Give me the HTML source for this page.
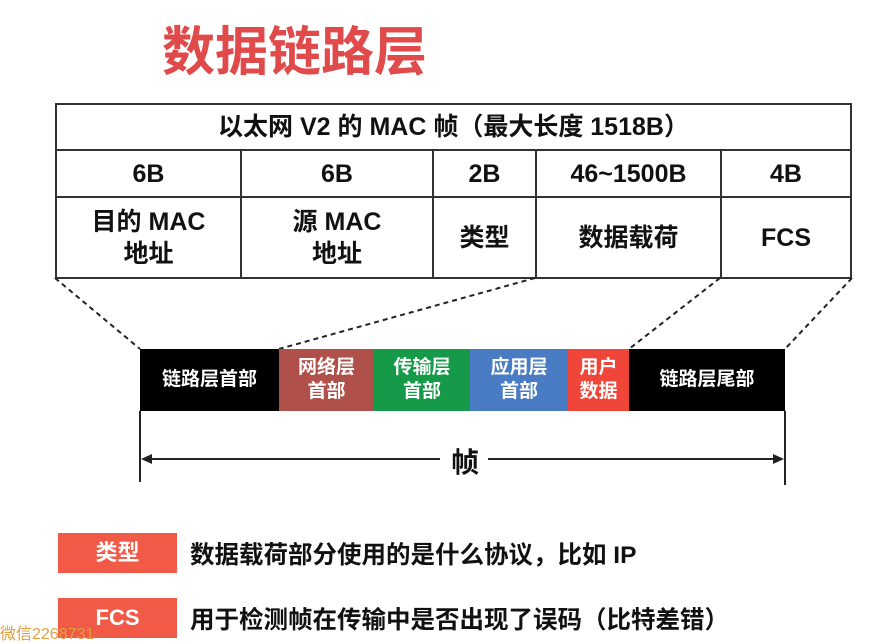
<!DOCTYPE html>
<html><head><meta charset="utf-8"><style>
body{margin:0;width:886px;height:641px;background:#fff;position:relative;overflow:hidden;font-family:"Liberation Sans","Noto Sans CJK SC",sans-serif;font-weight:bold;}
.a{position:absolute;}
table{border-collapse:collapse;position:absolute;left:55px;top:103px;width:797px;}
td{border:2px solid #333;text-align:center;font-size:25px;color:#111;padding:0;line-height:32px;}
.seg{position:absolute;top:349px;height:62px;color:#fff;font-size:19px;line-height:24px;display:flex;align-items:center;justify-content:center;text-align:center;}
.tag{position:absolute;left:58px;width:119px;height:40px;background:#f05a47;color:#fff;font-size:22px;line-height:40px;text-align:center;}
.txt{position:absolute;left:190px;font-size:24.5px;color:#111;}
</style></head><body>
<div class="a" style="left:162px;top:10px;font-size:53px;color:#e04a4a;letter-spacing:0px;">数据链路层</div>
<table>
<tr style="height:46px"><td colspan="5">以太网 V2 的 MAC 帧（最大长度 1518B）</td></tr>
<tr style="height:47px"><td style="width:183px">6B</td><td style="width:190px">6B</td><td style="width:101px">2B</td><td style="width:183px">46~1500B</td><td>4B</td></tr>
<tr style="height:81px"><td>目的 MAC<br>地址</td><td>源 MAC<br>地址</td><td>类型</td><td>数据载荷</td><td>FCS</td></tr>
</table>
<svg class="a" style="left:0;top:0" width="886" height="641">
<g stroke="#222" stroke-width="2" stroke-dasharray="5,4" fill="none">
<line x1="55" y1="278" x2="140" y2="349"/><line x1="535" y1="278" x2="279" y2="349"/>
<line x1="720" y1="278" x2="629" y2="349"/><line x1="852" y1="278" x2="785" y2="349"/>
</g>
<g stroke="#222" stroke-width="2">
<line x1="140" y1="411" x2="140" y2="482"/><line x1="785" y1="411" x2="785" y2="485"/>
<line x1="144" y1="459" x2="440" y2="459"/><line x1="488" y1="459" x2="781" y2="459"/>
</g>
<polygon points="141,459 152,454 152,464" fill="#222"/>
<polygon points="784,459 773,454 773,464" fill="#222"/>
</svg>
<div class="a" style="left:451px;top:441px;font-size:28px;color:#111;">帧</div>
<div class="seg" style="left:140px;width:139px;background:#000">链路层首部</div>
<div class="seg" style="left:279px;width:95px;background:#b0504a">网络层<br>首部</div>
<div class="seg" style="left:374px;width:96px;background:#169a4a">传输层<br>首部</div>
<div class="seg" style="left:470px;width:98px;background:#4a7cc4">应用层<br>首部</div>
<div class="seg" style="left:568px;width:61px;background:#f0463a">用户<br>数据</div>
<div class="seg" style="left:629px;width:156px;background:#000">链路层尾部</div>
<div class="tag" style="top:533px">类型</div>
<div class="txt" style="top:536px">数据载荷部分使用的是什么协议，比如 IP</div>
<div class="tag" style="top:598px">FCS</div>
<div class="txt" style="top:601px">用于检测帧在传输中是否出现了误码（比特差错）</div>
<div class="a" style="left:0;top:620px;font-size:16px;color:#e0a040;font-weight:normal;">微信2268731</div>
</body></html>
